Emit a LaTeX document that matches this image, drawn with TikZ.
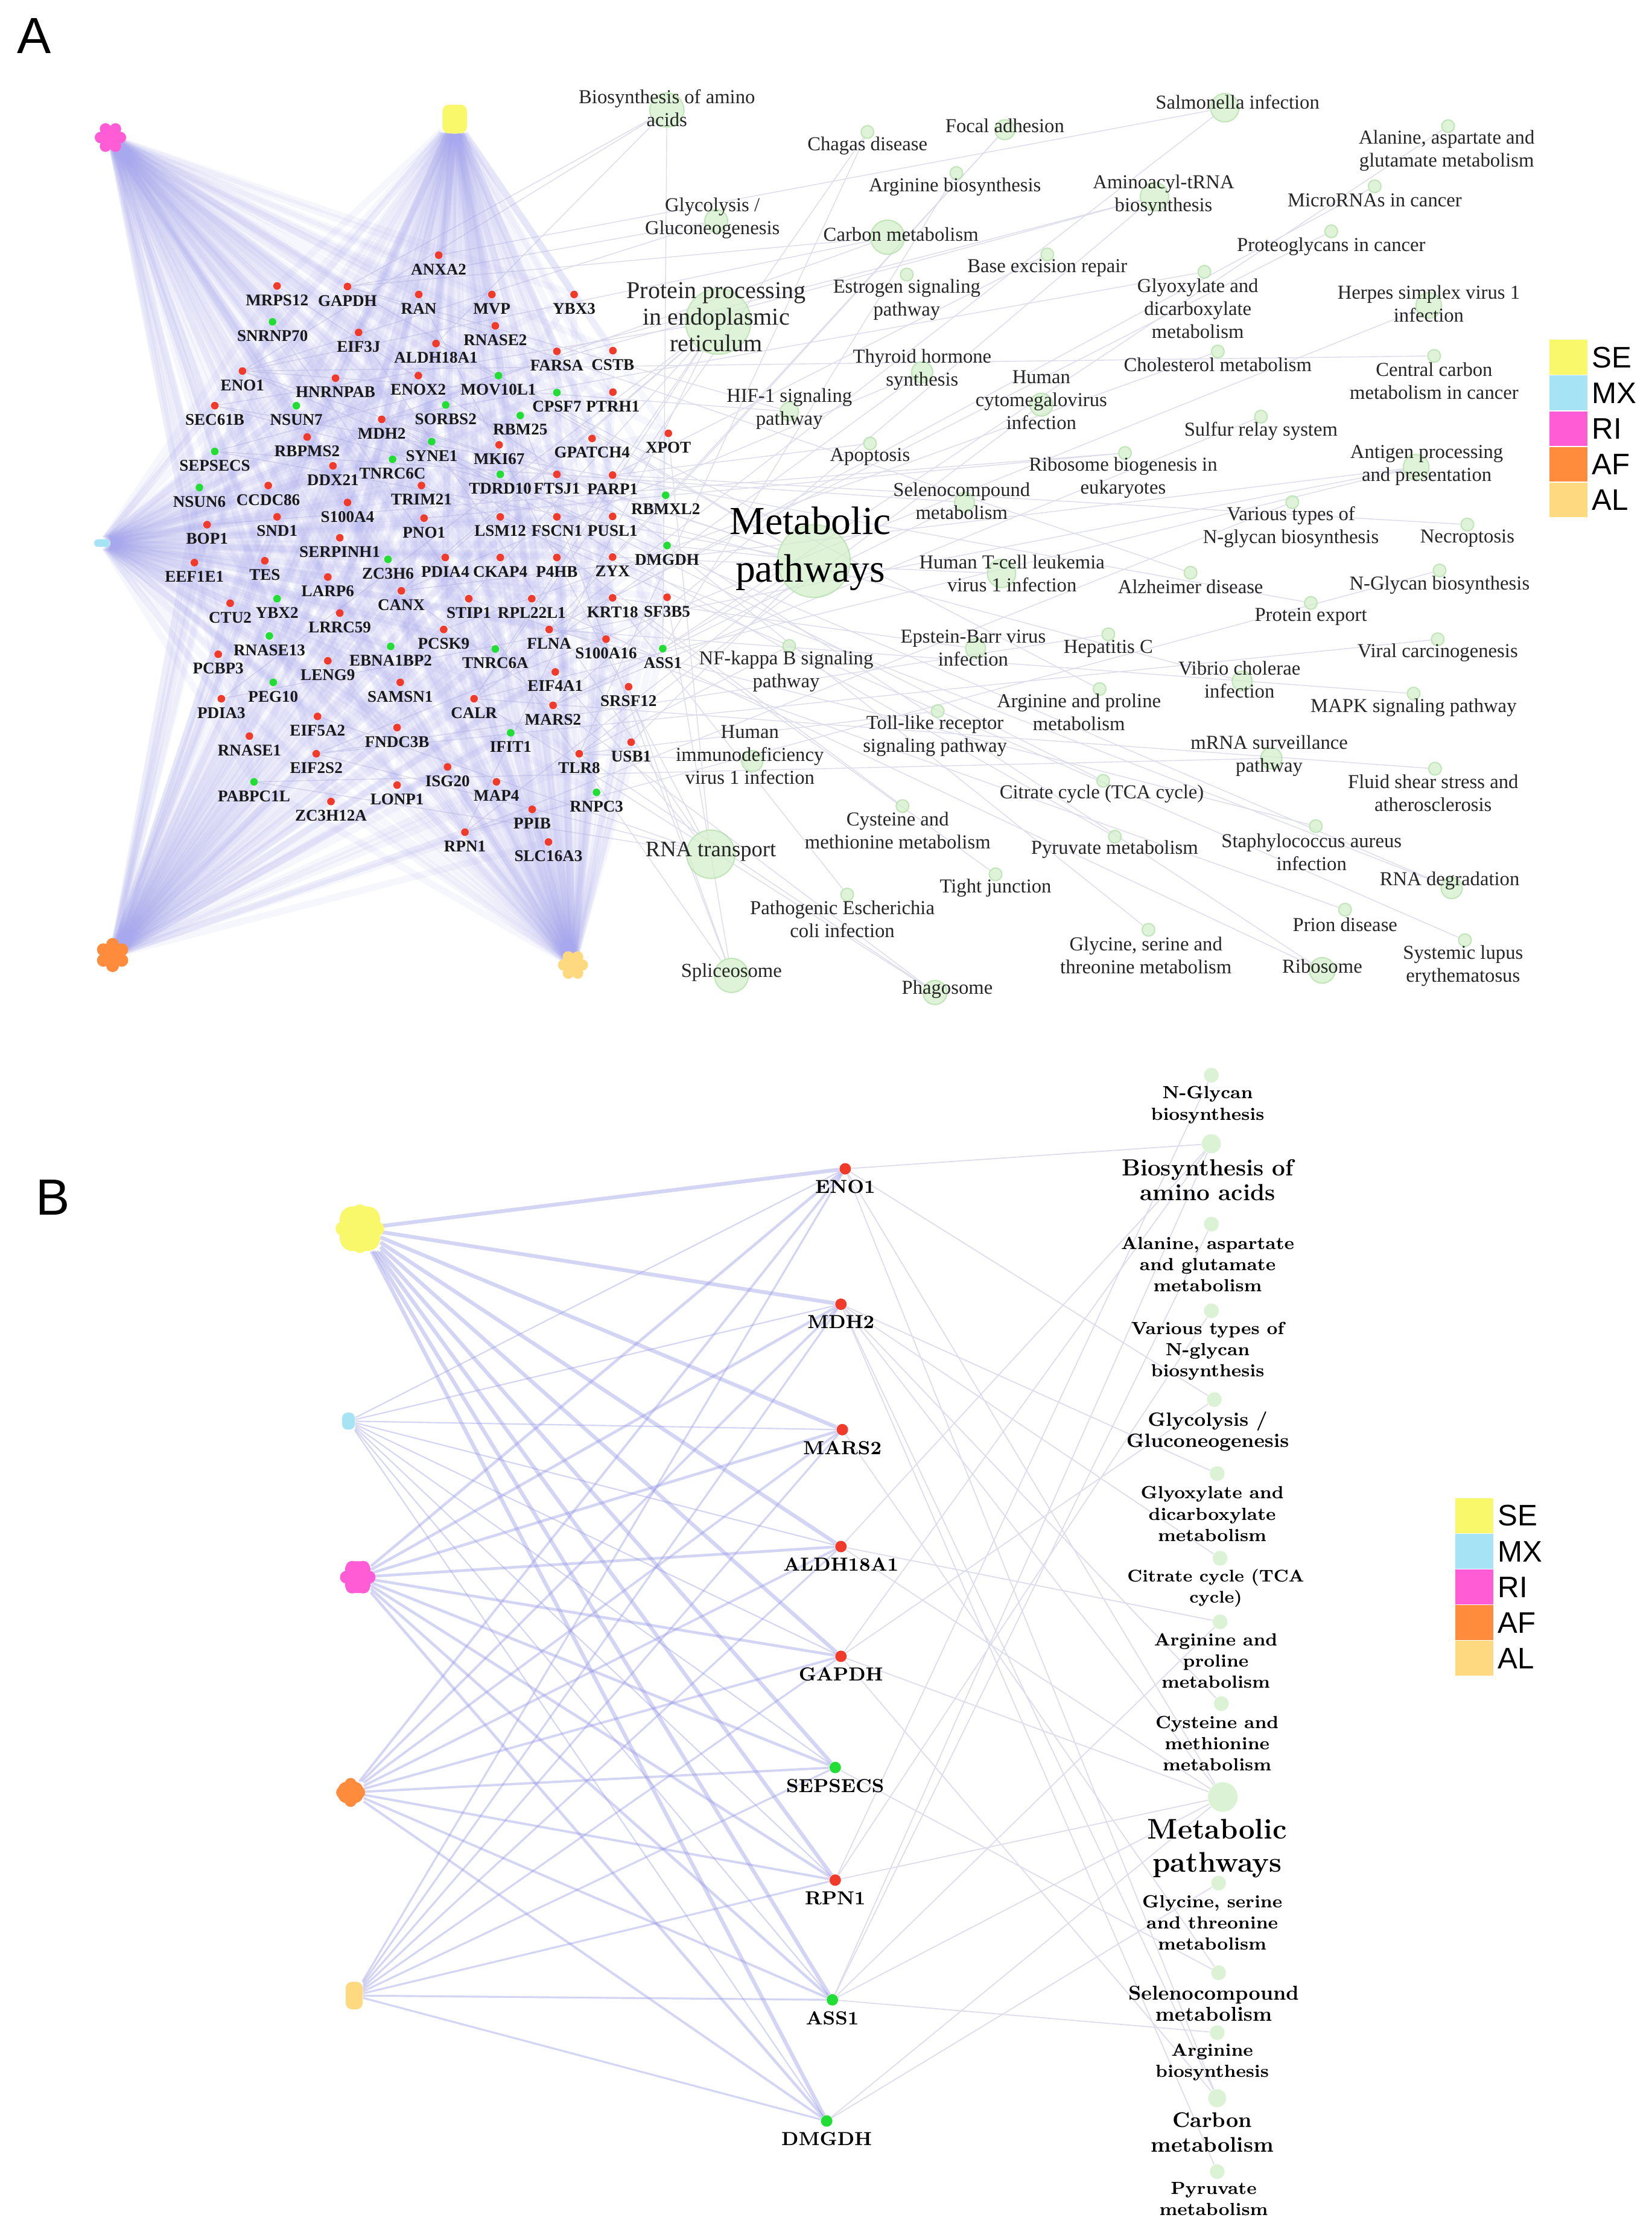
\documentclass[tikz,border=0pt]{standalone}
\usepackage{fontspec}
\newfontfamily\serifA{Liberation Serif}
\newfontfamily\sansA{Liberation Sans}
\usetikzlibrary{positioning}
\pgfdeclarelayer{bg}
\pgfsetlayers{bg,main}

\definecolor{upred}{HTML}{F23A2A}
\definecolor{dngreen}{HTML}{22DD33}
\definecolor{seyel}{HTML}{F8F86A}
\definecolor{mxblu}{HTML}{A6E3F5}
\definecolor{ripnk}{HTML}{FF5CD6}
\definecolor{afora}{HTML}{FF8C3C}
\definecolor{alyel}{HTML}{FFD980}
\definecolor{fanlav}{HTML}{A8A8EE}
\definecolor{fanlavB}{HTML}{9A9AE6}
\definecolor{pwgreen}{HTML}{D3EFCB}
\definecolor{pwrim}{HTML}{B5E0AB}
\definecolor{pwedge}{HTML}{DCDCEC}

\tikzset{
  gene/.style={circle, inner sep=0pt, minimum size=3.6pt},
  upA/.style={gene, fill=upred},
  dnA/.style={gene, fill=dngreen},
  upB/.style={gene, fill=upred, minimum size=5.4pt},
  dnB/.style={gene, fill=dngreen, minimum size=5.4pt},
  glabA/.style={font=\serifA\bfseries\fontsize{7.7}{8}\selectfont, inner sep=0pt, text=black!90},
  glabB/.style={font=\bfseries\fontsize{8.9}{9}\selectfont, inner sep=0pt},
  pw/.style={circle, inner sep=0pt, fill=pwgreen, draw=pwrim, line width=0.6pt, opacity=0.75},
  pwB/.style={circle, inner sep=0pt, fill=pwgreen, opacity=0.8},
  pwt/.style={font=\serifA\fontsize{9.3}{10.8}\selectfont, align=center, inner sep=0pt, text=black!85},
  pbt/.style={font=\bfseries\fontsize{8.3}{10}\selectfont, align=center, inner sep=0pt},
  fanA/.style={draw=fanlav, line width=3.2pt, opacity=0.1},
  fanB/.style={draw=fanlavB, opacity=0.42},
  pwline/.style={draw=pwedge, line width=0.4pt},
  blob/.style={inner sep=0pt, draw=none},
  legbox/.style={rectangle, inner sep=0pt, minimum width=17.9pt, minimum height=16.4pt},
  legtxt/.style={font=\sansA\fontsize{14}{16}\selectfont, inner sep=0pt},
  panel/.style={font=\sansA\fontsize{24}{28}\selectfont, inner sep=0pt}
}

\def\upAlist{ANXA2/307.8/179.0, MRPS12/194.4/200.6, GAPDH/243.8/201.0, RAN/293.8/206.6,
  MVP/345.1/206.6, YBX3/402.8/206.6, EIF3J/251.6/233.2, RNASE2/347.5/228.6,
  ALDH18A1/305.9/241.0, FARSA/390.7/246.5, CSTB/430/246, ENO1/170.1/260.3,
  HNRNPAB/235.4/265.3, ENOX2/293.5/263.5, PTRH1/430/275.1, SEC61B/150.7/284.6,
  MDH2/267.8/294.2, RBPMS2/215.5/306.6, MKI67/350.2/312.1, GPATCH4/415.4/307.6,
  XPOT/468.9/304, DDX21/233.6/326.8, FTSJ1/390.7/332.8, PARP1/429.8/333.3,
  CCDC86/188.2/340.6, TRIM21/295.7/340.6, S100A4/243.8/352.5, SND1/194.4/362.6,
  PNO1/297.5/363.5, LSM12/351/362.6, FSCN1/390.7/362.6, PUSL1/429.8/362.3,
  BOP1/145.3/368.1, SERPINH1/238.4/377.3, PDIA4/312.4/391.1, CKAP4/351/391.1,
  P4HB/390.7/391.1, ZYX/429.8/390.8, EEF1E1/136.4/394.7, TES/185.8/393.4,
  LARP6/230/404.8, CANX/281.6/414.5, STIP1/328.9/420, RPL22L1/373.1/420,
  KRT18/429.8/419.4, SF3B5/468/419, CTU2/161.5/423.2, LRRC59/238.4/430.1,
  PCSK9/311.3/441.6, FLNA/385.3/441.6, S100A16/425.2/448.4, PCBP3/153.1/459,
  LENG9/230/463.6, EIF4A1/389.6/471.4, SAMSN1/280.8/478.7, SRSF12/441/481.8,
  PDIA3/155.3/490.2, CALR/332.6/490.2, MARS2/388/494.8, EIF5A2/222.8/502.6,
  FNDC3B/278.6/510.4, RNASE1/175/516.4, USB1/442.8/520.7, EIF2S2/221.9/528.8,
  TLR8/406.4/528.8, ISG20/314/538, LONP1/278.6/550.8, MAP4/348.3/548.5,
  ZC3H12A/232.2/562.3, PPIB/373.4/567.8, RPN1/326.2/583.8, SLC16A3/384.8/590.7}
\def\dnAlist{SNRNP70/191.2/225.8, MOV10L1/349.7/263.5, CPSF7/390.7/275.4, NSUN7/207.9/284.6,
  SORBS2/312.7/284.1, RBM25/365/291.5, SYNE1/302.9/309.8, SEPSECS/150.7/316.7,
  TNRC6C/275.4/322.2, TDRD10/351/332.8, NSUN6/139.9/342, RBMXL2/467/347.4,
  DMGDH/468/382.7, ZC3H6/272.2/392.4, YBX2/194.4/420, RNASE13/189/446.1,
  EBNA1BP2/274.1/453.5, TNRC6A/347.5/455.3, ASS1/465/455, PEG10/191.7/478.7,
  IFIT1/358.3/514.1, PABPC1L/178.2/548.5, RNPC3/418.5/555.9}
\def\linksA{ENO1/Met, MDH2/Met, GAPDH/Met, ALDH18A1/Met, ASS1/Met, DMGDH/Met, RPN1/Met,
  SEPSECS/Met, USB1/Met, CANX/Prot, CALR/Prot, P4HB/Prot, PDIA3/Prot, PDIA4/Prot,
  SEC61B/Prot, RPN1/Prot, STIP1/Prot, EIF3J/RNAt, EIF2S2/RNAt, EIF4A1/RNAt, EIF5A2/RNAt,
  RAN/RNAt, XPOT/RNAt, PABPC1L/RNAt, SNRNP70/Splice, SF3B5/Splice, SRSF12/Splice,
  RBM25/Splice, ENO1/Bio, GAPDH/Bio, ALDH18A1/Bio, ASS1/Bio, ENO1/Glyc, GAPDH/Glyc,
  ENO1/Carbon, GAPDH/Carbon, MDH2/Carbon, FLNA/Salm, ANXA2/Salm, FARSA/Amino,
  MARS2/Amino, SEPSECS/Amino, MRPS12/Ribo, RPL22L1/Ribo, CANX/Phago, CALR/Phago,
  TLR8/Phago, CANX/Antigen, CALR/Antigen, PDIA3/Antigen, FLNA/Focal, ZYX/Focal,
  ENO1/RNAdeg, LSM12/RNAdeg, CANX/Thyroid, CALR/Thyroid, MARS2/Seleno, SEPSECS/Seleno,
  ASS1/ArgBio, ASS1/Alan, ALDH18A1/ArgPro, MDH2/Glyox, MDH2/Citrate, MDH2/Cys, MDH2/Pyr,
  DMGDH/Gly, RPN1/NGly, RPN1/Various, SEC61B/Export, CALR/Chagas, TLR8/Chagas, ENO1/HIF,
  GAPDH/HIF, ZYX/HTLV, EIF2S2/Herpes, PABPC1L/mRNA, FLNA/MAPK, TLR8/Toll, KRT18/EBV,
  TLR8/NFkB, FLNA/Proteo, PARP1/Base, PARP1/Apop, PCSK9/Chol, KRT18/Micro, PARP1/Necro,
  GAPDH/Alz, EIF2S2/HepC, SEC61B/Vibrio, KRT18/Patho, BOP1/RibBio, PNO1/RibBio,
  STIP1/Prion, TRIM21/SLE, TLR8/HIV, FLNA/Staph, CALR/Fluid, ENO1/Central, MARS2/Sulfur,
  KRT18/Tight, TLR8/CMV, EIF2S2/Viral}
\def\linksB{ENO1/Bio, ENO1/Glyc, ENO1/Carbon, ENO1/Met, MDH2/Glyox, MDH2/Citrate,
  MDH2/Cys, MDH2/Met, MDH2/Carbon, MDH2/Pyr, MARS2/Seleno, ALDH18A1/ArgPro,
  ALDH18A1/Bio, ALDH18A1/Met, GAPDH/Glyc, GAPDH/Bio, GAPDH/Carbon, GAPDH/Met,
  SEPSECS/Seleno, RPN1/NGly, RPN1/Various, RPN1/Met, ASS1/ArgBio, ASS1/Alan,
  ASS1/ArgPro, ASS1/Bio, ASS1/Met, DMGDH/Gly, DMGDH/Met}

\begin{document}
\begin{tikzpicture}[x=0.02362cm, y=-0.02362cm]
\useasboundingbox (0,0) rectangle (1159,1568);

\node[panel] (labA) at (24,25) {A};
\node[panel] (labB) at (37,840) {B};

% panel A: sample groups
\node[blob, fill=seyel, rectangle, rounded corners=3pt, minimum width=11.5pt, minimum height=13.5pt] (A-SE) at (319,83.5) {};
\node[blob, fill=mxblu, rectangle, rounded corners=1.7pt, minimum width=7.4pt, minimum height=3.6pt] (A-MX) at (71.6,381) {};
\node[blob, fill=ripnk, circle, minimum size=8pt] (A-RI) at (77.5,96.5) {};
\foreach \a in {0,60,...,300} \fill[ripnk] (A-RI) ++(\a:7) circle (2.7pt);
\node[blob, fill=afora, circle, minimum size=9pt] (A-AF) at (79,670) {};
\foreach \a in {30,90,...,330} \fill[afora] (A-AF) ++(\a:7.5) circle (3pt);
\node[blob, fill=alyel, circle, minimum size=8pt] (A-AL) at (402,677) {};
\foreach \a in {0,60,...,300} \fill[alyel] (A-AL) ++(\a:6.5) circle (2.7pt);

% panel A: proteins
\foreach \n/\x/\y in \upAlist
  \node[upA, label={[glabA, label distance=1.9pt]below:\n}] (A-\n) at (\x,\y) {};
\foreach \n/\x/\y in \dnAlist
  \node[dnA, label={[glabA, label distance=1.9pt]below:\n}] (A-\n) at (\x,\y) {};

% panel A: pathways
\foreach \n/\x/\y/\d in {Bio/467.9/77.2/16.1, Chagas/608.6/92.6/6, Focal/705/91/9.4,
  Salm/859.3/75.6/13.4, Alan/1016/88.5/6, ArgBio/671/121.4/6, Amino/810/138/13.4,
  Micro/964.5/130.7/6, Glyc/502.5/155/10.8, Carbon/622.7/166.4/16.1, Proteo/934/162.3/6,
  Base/734.8/178.5/6, Prot/503.9/225.5/30.9, Estro/636.2/192.6/6, Glyox/845/190.7/6,
  Herpes/1002.4/214.3/12.1, Thyroid/647/261.2/10, CMV/730.6/283.9/10.8, Chol/854.4/246.6/6,
  Central/1006.2/249.7/6, HIF/553.8/288.7/8.7, Sulfur/884.7/292.3/6, Apop/610.4/311.1/6,
  RibBio/789.3/317.8/6, Antigen/993.6/327.8/12.1, Seleno/676.7/352.4/9.4, Met/571/393.6/34.3,
  Various/906.7/352.3/6, Necro/1029.5/368/6, HTLV/702.7/402.3/13.4, Alz/835.3/401.8/6,
  NGly/1010/400.2/6, Export/919.7/423/6, HepC/777.6/445/6, Viral/1008.7/448.5/6,
  EBV/684.5/455/9.4, NFkB/553.7/453.2/6, Vibrio/871.5/477.8/9.4, ArgPro/771.5/483.4/6,
  MAPK/991.8/486.6/6, Toll/657.9/498.9/6, mRNA/892/532/10, HIV/527.8/534/10,
  Fluid/1006.8/539.3/6, Citrate/774/547.8/6, Cys/633.2/565.5/6, Staph/923.2/579.6/6,
  RNAt/498.7/599.3/22.8, Pyr/782.2/587/6, Tight/698.5/613.4/6, RNAdeg/1018.5/623/10,
  Patho/594.4/627.6/6, Prion/943.7/638.2/6, Gly/805.8/652.3/6, Ribo/927.7/680.8/12.1,
  SLE/1027.8/659.6/6, Splice/513.2/684.3/16.1, Phago/656/696.3/11.4}
  \node[pw, minimum size=\d pt] (pA-\n) at (\x,\y) {};

\foreach \n/\x/\y/\t in {Bio/467.9/75.8/{Biosynthesis of amino\\acids},
  Chagas/608.6/102.3/{Chagas disease}, Focal/705/88.2/{Focal adhesion},
  Salm/868.3/71.5/{Salmonella infection}, Alan/1015/105.8/{Alanine, aspartate and\\glutamate metabolism},
  ArgBio/670/131.2/{Arginine biosynthesis}, Amino/816.4/137.2/{Aminoacyl-tRNA\\biosynthesis},
  Micro/964.5/140.4/{MicroRNAs in cancer}, Glyc/499.8/153.2/{Glycolysis /\\Gluconeogenesis},
  Carbon/632.1/164.3/{Carbon metabolism}, Proteo/934/172.8/{Proteoglycans in cancer},
  Base/734.8/188.2/{Base excision repair}, Estro/636.2/210.3/{Estrogen signaling\\pathway},
  Glyox/840.4/216.4/{Glyoxylate and\\dicarboxylate\\metabolism},
  Herpes/1002.4/213.2/{Herpes simplex virus 1\\infection}, Thyroid/647/259.2/{Thyroid hormone\\synthesis},
  CMV/730.6/280.6/{Human\\cytomegalovirus\\infection}, Chol/854.4/256/{Cholesterol metabolism},
  Central/1006.2/267.3/{Central carbon\\metabolism in cancer}, HIF/553.8/286.7/{HIF-1 signaling\\pathway},
  Sulfur/884.7/302.3/{Sulfur relay system}, Apop/610.4/320.4/{Apoptosis},
  RibBio/788/335.3/{Ribosome biogenesis in\\eukaryotes}, Antigen/1001/326.5/{Antigen processing\\and presentation},
  Seleno/674.7/351.3/{Selenocompound\\metabolism}, Various/905.7/369.8/{Various types of\\N-glycan biosynthesis},
  Necro/1029.5/377.8/{Necroptosis}, HTLV/710/402.2/{Human T-cell leukemia\\virus 1 infection},
  Alz/835.3/411.7/{Alzheimer disease}, NGly/1010/410.3/{N-Glycan biosynthesis},
  Export/919.7/432.7/{Protein export}, HepC/777.6/455/{Hepatitis C},
  Viral/1008.7/458.1/{Viral carcinogenesis}, EBV/682.8/454.4/{Epstein-Barr virus\\infection},
  NFkB/551.6/471/{NF-kappa B signaling\\pathway}, Vibrio/869.6/476.9/{Vibrio cholerae\\infection},
  ArgPro/757/499.5/{Arginine and proline\\metabolism}, MAPK/991.8/496.5/{MAPK signaling pathway},
  Toll/656/516.4/{Toll-like receptor\\signaling pathway}, mRNA/890.5/530.4/{mRNA surveillance\\pathway},
  HIV/526.1/529.5/{Human\\immunodeficiency\\virus 1 infection},
  Fluid/1005.5/556.5/{Fluid shear stress and\\atherosclerosis}, Citrate/773/557/{Citrate cycle (TCA cycle)},
  Cys/629.8/582.8/{Cysteine and\\methionine metabolism}, Staph/920.2/597.7/{Staphylococcus aureus\\infection},
  Pyr/782/596/{Pyruvate metabolism}, Tight/698.5/623/{Tight junction},
  RNAdeg/1017.1/618/{RNA degradation}, Patho/591/644.8/{Pathogenic Escherichia\\coli infection},
  Prion/943.7/648.8/{Prion disease}, Gly/804/670.2/{Glycine, serine and\\threonine metabolism},
  Ribo/927.7/677.7/{Ribosome}, SLE/1026.5/677.4/{Systemic lupus\\erythematosus},
  Splice/513.2/682.2/{Spliceosome}, Phago/664.6/694.2/{Phagosome}}
  \node[pwt] (tA-\n) at (\x,\y) {\t};
\node[pwt, font=\serifA\fontsize{11.4}{12.5}\selectfont] (tA-Prot) at (502.5,222.3) {Protein processing\\in endoplasmic\\reticulum};
\node[pwt, font=\serifA\fontsize{18.7}{22.4}\selectfont, text=black] (tA-Met) at (568.6,384.8) {Metabolic\\pathways};
\node[pwt, font=\serifA\fontsize{10.4}{12}\selectfont] (tA-RNAt) at (498.7,597.3) {RNA transport};

% panel A: legend
\node[legbox, fill=seyel] (legA-SE) at (1100.5,250.7) {};
\node[legbox, fill=mxblu, below=0pt of legA-SE] (legA-MX) {};
\node[legbox, fill=ripnk, below=0pt of legA-MX] (legA-RI) {};
\node[legbox, fill=afora, below=0pt of legA-RI] (legA-AF) {};
\node[legbox, fill=alyel, below=0pt of legA-AF] (legA-AL) {};
\foreach \g in {SE,MX,RI,AF,AL}
  \node[legtxt, right=1.8pt of legA-\g] (legA-\g-t) {\g};

% panel B: sample groups
\node[blob, fill=seyel, rectangle, rounded corners=6pt, minimum width=19pt, minimum height=21pt] (B-SE) at (252.5,862) {};
\foreach \a in {0,45,...,315} \fill[seyel] (B-SE) ++(\a:12) circle (3.4pt);
\node[blob, fill=mxblu, rectangle, rounded corners=2.5pt, minimum width=6pt, minimum height=8pt] (B-MX) at (244.5,997) {};
\node[blob, fill=ripnk, rectangle, rounded corners=4pt, minimum width=12pt, minimum height=15pt] (B-RI) at (251,1106.5) {};
\foreach \a in {0,60,...,300} \fill[ripnk] (B-RI) ++(\a:8) circle (3pt);
\node[blob, fill=afora, rectangle, rounded corners=4pt, minimum width=12pt, minimum height=10pt] (B-AF) at (246,1257.5) {};
\foreach \a in {0,90,...,270} \fill[afora] (B-AF) ++(\a:6) circle (2.8pt);
\node[blob, fill=alyel, rectangle, rounded corners=3pt, minimum width=8pt, minimum height=13pt] (B-AL) at (248.5,1400) {};

% panel B: proteins
\foreach \n/\x/\y/\s in {ENO1/593/820/upB, MDH2/590/915/upB, MARS2/591/1003/upB,
  ALDH18A1/590/1085/upB, GAPDH/590/1162/upB, SEPSECS/586/1240/dnB, RPN1/586/1319/upB,
  ASS1/584/1403/dnB, DMGDH/580/1488/dnB}
  \node[\s, label={[glabB, label distance=2.3pt]below:\n}] (B-\n) at (\x,\y) {};

% panel B: pathways
\foreach \n/\x/\y/\d in {NGly/849.9/754.3/7, Bio/849.9/802.4/9, Alan/849.9/858.8/7,
  Various/849.9/919.6/7, Glyc/852/981.9/7, Glyox/854/1033.8/7, Citrate/856/1093.2/7,
  ArgPro/856/1137.8/7, Cys/856.9/1195.2/7, Met/857.9/1260.7/14, Gly/855/1321.1/7,
  Seleno/855/1384/7, ArgBio/854/1426/7, Carbon/854/1472/8.5, Pyr/854/1523.5/7}
  \node[pwB, minimum size=\d pt] (pB-\n) at (\x,\y) {};
\foreach \n/\x/\y/\t in {NGly/847.3/775.2/{N-Glycan\\biosynthesis},
  Alan/847.3/887.1/{Alanine, aspartate\\and glutamate\\metabolism},
  Various/847.3/948/{Various types of\\N-glycan\\biosynthesis},
  Glyox/850.5/1062.1/{Glyoxylate and\\dicarboxylate\\metabolism},
  ArgPro/853/1165.2/{Arginine and\\proline\\metabolism},
  Cys/853.9/1223.2/{Cysteine and\\methionine\\metabolism},
  Gly/850.5/1348.8/{Glycine, serine\\and threonine\\metabolism},
  ArgBio/850.5/1446.8/{Arginine\\biosynthesis}, Pyr/851.5/1542.8/{Pyruvate\\metabolism}}
  \node[pbt] (tB-\n) at (\x,\y) {\t};
\node[pbt, font=\bfseries\fontsize{11}{11.8}\selectfont] (tB-Bio) at (847.3,827.9) {Biosynthesis of\\amino acids};
\node[pbt, font=\bfseries\fontsize{9.1}{10}\selectfont] (tB-Glyc) at (847.3,1004.2) {Glycolysis /\\Gluconeogenesis};
\node[pbt, font=\bfseries\fontsize{8}{10}\selectfont] (tB-Citrate) at (853,1114.2) {Citrate cycle (TCA\\cycle)};
\node[pbt, font=\bfseries\fontsize{13.4}{15.5}\selectfont] (tB-Met) at (854,1296.7) {Metabolic\\pathways};
\node[pbt, font=\bfseries\fontsize{9.5}{10}\selectfont] (tB-Seleno) at (851.5,1405.8) {Selenocompound\\metabolism};
\node[pbt, font=\bfseries\fontsize{10}{11.5}\selectfont] (tB-Carbon) at (850.5,1496) {Carbon\\metabolism};

% panel B: legend
\node[legbox, fill=seyel] (legB-SE) at (1034.5,1063.4) {};
\node[legbox, fill=mxblu, below=0pt of legB-SE] (legB-MX) {};
\node[legbox, fill=ripnk, below=0pt of legB-MX] (legB-RI) {};
\node[legbox, fill=afora, below=0pt of legB-RI] (legB-AF) {};
\node[legbox, fill=alyel, below=0pt of legB-AF] (legB-AL) {};
\foreach \g in {SE,MX,RI,AF,AL}
  \node[legtxt, right=1.8pt of legB-\g] (legB-\g-t) {\g};

% edges
\begin{pgfonlayer}{bg}
\fill[white] (0,0) rectangle (1159,1568);
\foreach \g/\p in \linksA \draw[pwline] (A-\g) -- (pA-\p);
\foreach \c in {SE,MX,RI,AF,AL}{
  \foreach \n/\x/\y in \upAlist \draw[fanA] (A-\c) -- (A-\n);
  \foreach \n/\x/\y in \dnAlist \draw[fanA] (A-\c) -- (A-\n);
}
\foreach \g/\p in \linksB \draw[pwline, line width=0.5pt] (B-\g) -- (pB-\p);
\foreach \c/\w in {SE/1.8, RI/1.3, AF/1.1, AL/0.9, MX/0.6}
  \foreach \g in {ENO1,MDH2,MARS2,ALDH18A1,GAPDH,SEPSECS,RPN1,ASS1,DMGDH}
    \draw[fanB, line width=\w pt] (B-\c) -- (B-\g);
\end{pgfonlayer}
\end{tikzpicture}
\end{document}
